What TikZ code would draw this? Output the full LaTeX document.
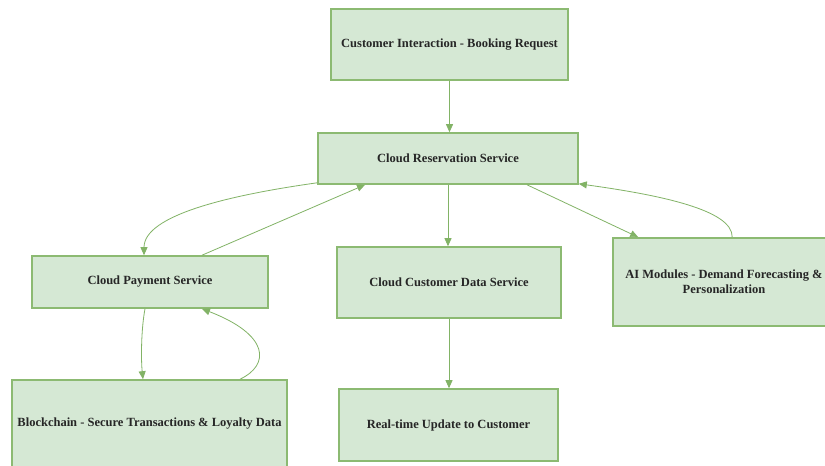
\documentclass[tikz,border=0pt]{standalone}
\usepackage{fontspec}
\setmainfont{Liberation Serif}
\usetikzlibrary{arrows.meta}
\definecolor{boxfill}{HTML}{D5E8D4}
\definecolor{boxline}{HTML}{8CBA72}
\definecolor{arrline}{HTML}{82B366}
\begin{document}
\begin{tikzpicture}[x=1pt,y=-1pt,
  box/.style={draw=boxline,fill=boxfill,line width=1.6pt,inner sep=0pt,
    font=\fontsize{12.5}{15}\selectfont\bfseries,text=black!85,align=center},
  conn/.style={draw=arrline,line width=0.8pt,
    -{Triangle[length=8pt,width=7pt,fill=arrline]}}]
\clip (0,0) rectangle (825,466);
\fill[white] (0,0) rectangle (825,466);
\node[box,minimum width=237pt,minimum height=71pt] (b1) at (449.5,44.5) {Customer Interaction - Booking Request};
\node[box,minimum width=260pt,minimum height=51pt] (b2) at (448,158.5) {Cloud Reservation Service};
\node[box,minimum width=236pt,minimum height=52pt] (b3) at (150,282) {Cloud Payment Service};
\node[box,minimum width=224pt,minimum height=71pt] (b4) at (449,282.5) {Cloud Customer Data Service};
\node[box,minimum width=222pt,minimum height=88pt] (b5) at (724,282) {AI Modules - Demand Forecasting \&\\Personalization};
\node[box,minimum width=275pt,minimum height=88pt] (b6) at (149.5,424) {Blockchain - Secure Transactions \& Loyalty Data};
\node[box,minimum width=219pt,minimum height=72pt] (b7) at (448.5,425) {Real-time Update to Customer};
% connectors
\draw[conn] (b1.south) -- (b1.south |- b2.north);
\draw[conn] ([yshift=2pt]b2.south west) .. controls (230,195) and (144,215) .. ([xshift=-6pt]b3.north);
\draw[conn] ([xshift=52pt]b3.north) -- ([xshift=-83pt]b2.south);
\draw[conn] (b2.south) -- (b2.south |- b4.north);
\draw[conn] ([xshift=79pt]b2.south) -- ([xshift=26pt]b5.north west);
\draw[conn] ([xshift=120pt]b5.north west) .. controls (733,210) and (660,195) .. ([yshift=1pt]b2.south east);
\draw[conn] ([xshift=-5pt]b3.south) .. controls (141,330) and (141,360) .. ([xshift=-6.5pt]b6.north);
\draw[conn] ([xshift=90.5pt]b6.north) .. controls (270,365) and (270,335) .. ([xshift=52pt]b3.south);
\draw[conn] (b4.south) -- (b4.south |- b7.north);
\end{tikzpicture}
\end{document}
